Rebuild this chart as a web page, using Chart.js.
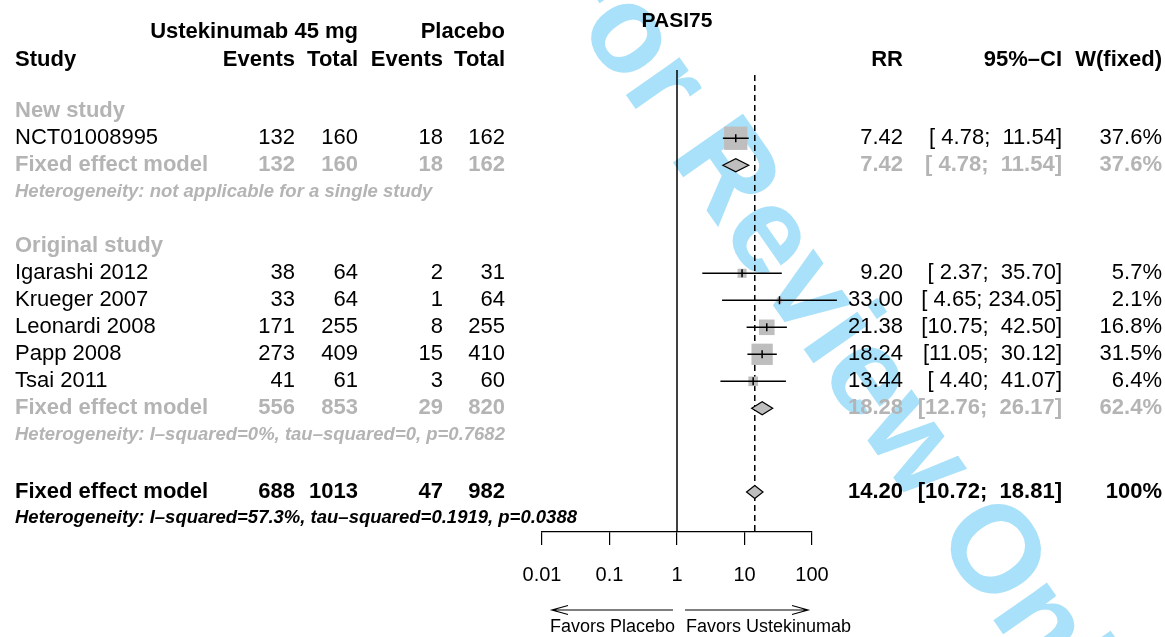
<!DOCTYPE html>
<html>
<head>
<meta charset="utf-8">
<title>PASI75 forest plot</title>
<script src="https://cdn.jsdelivr.net/npm/chart.js@4.4.1/dist/chart.umd.min.js"></script>
<style>
  html, body { margin: 0; padding: 0; background: #fff; }
  #forest { display: block; }
</style>
</head>
<body>
<canvas id="forest" width="1165" height="637"></canvas>
<script>
/* Forest plot — PASI75, ustekinumab 45 mg vs placebo (risk ratio, fixed effect) */

// ---- individual studies ----
const studyNames  = ["NCT01008995", "Igarashi 2012", "Krueger 2007", "Leonardi 2008", "Papp 2008", "Tsai 2011"];
const studyGroup  = [0, 1, 1, 1, 1, 1];
const eventsUst   = [132, 38, 33, 171, 273, 41];
const totalUst    = [160, 64, 64, 255, 409, 61];
const eventsPbo   = [18, 2, 1, 8, 15, 3];
const totalPbo    = [162, 31, 64, 255, 410, 60];
const studyRR     = [7.42, 9.20, 33.00, 21.38, 18.24, 13.44];
const studyLower  = [4.78, 2.37, 4.65, 10.75, 11.05, 4.40];
const studyUpper  = [11.54, 35.70, 234.05, 42.50, 30.12, 41.07];
const studyWeight = [37.6, 5.7, 2.1, 16.8, 31.5, 6.4];

// ---- subgroup pooled results ----
const groupNames  = ["New study", "Original study"];
const groupEvUst  = [132, 556];
const groupTotUst = [160, 853];
const groupEvPbo  = [18, 29];
const groupTotPbo = [162, 820];
const groupRR     = [7.42, 18.28];
const groupLower  = [4.78, 12.76];
const groupUpper  = [11.54, 26.17];
const groupWeight = [37.6, 62.4];
const groupHet    = [
  "Heterogeneity: not applicable for a single study",
  "Heterogeneity: I\u2013squared=0%, tau\u2013squared=0, p=0.7682"
];

// ---- overall pooled result ----
const overallCounts = [688, 1013, 47, 982];
const overallRR     = 14.20;
const overallLower  = 10.72;
const overallUpper  = 18.81;
const overallHet    = "Heterogeneity: I\u2013squared=57.3%, tau\u2013squared=0.1919, p=0.0388";

const xTicks = [0.01, 0.1, 1, 10, 100];

/* ---- row layout (y axis units, one unit per table line) ---- */
const rows = { title: 0.65, head1: 1.05, head2: 2.1, lineTop: 2.47, dashTop: 2.66 };
let r = 4;
const groupRows = groupNames.map((g, gi) => {
  const out = { header: r++, studies: [] };
  studyNames.forEach((s, i) => { if (studyGroup[i] === gi) out.studies.push({ i, row: r++ }); });
  out.fixed = r++;
  out.het = r++;
  r++;
  return out;
});
const overallRow = r + 0.1, overallHetRow = r + 1.05;
const studyRow = [];
groupRows.forEach(g => g.studies.forEach(s => { studyRow[s.i] = s.row; }));

/* ---- styling ---- */
const FONT = '"Liberation Sans", Arial, Helvetica, sans-serif';
const BLACK = "#000";
const GREY = "#b4b4b4";
const BOX = "#bebebe";
const col = { study: 15, evU: 295, totU: 358, evP: 443, totP: 505, rr: 903, ci: 1062, w: 1162 };

const fmt = {
  rr: v => v.toFixed(2),
  ci: (lo, hi) => "[" + lo.toFixed(2).padStart(5) + "; " + hi.toFixed(2).padStart(6) + "]",
  w: v => v >= 100 ? "100%" : v.toFixed(1) + "%",
};

function txt(ctx, s, x, y, align, font, color) {
  ctx.font = font;
  ctx.fillStyle = color;
  ctx.textAlign = align;
  ctx.textBaseline = "middle";
  ctx.fillText(s, x, y);
}

function diamond(ctx, xs, y, lo, est, hi, h) {
  ctx.beginPath();
  ctx.moveTo(xs.getPixelForValue(lo), y);
  ctx.lineTo(xs.getPixelForValue(est), y - h);
  ctx.lineTo(xs.getPixelForValue(hi), y);
  ctx.lineTo(xs.getPixelForValue(est), y + h);
  ctx.closePath();
  ctx.fillStyle = BOX;
  ctx.fill();
  ctx.strokeStyle = BLACK;
  ctx.lineWidth = 1.2;
  ctx.stroke();
}

const forestPlugin = {
  id: "forest",
  beforeDraw(chart) {
    const ctx = chart.ctx;
    ctx.save();
    ctx.fillStyle = "#fff";
    ctx.fillRect(0, 0, chart.width, chart.height);
    // review watermark
    ctx.translate(534, -36);
    ctx.rotate(55 * Math.PI / 180);
    ctx.font = "bold 124px " + FONT;
    ctx.fillStyle = "#a8e1f9";
    ctx.textAlign = "left";
    ctx.textBaseline = "alphabetic";
    ctx.fillText("For Review Only", 0, 0);
    ctx.restore();
  },
  beforeDatasetsDraw(chart) {
    const { ctx, scales: { x, y }, chartArea } = chart;
    ctx.save();
    // line of no effect
    ctx.strokeStyle = BLACK;
    ctx.lineWidth = 1.5;
    ctx.beginPath();
    ctx.moveTo(x.getPixelForValue(1), y.getPixelForValue(rows.lineTop));
    ctx.lineTo(x.getPixelForValue(1), chartArea.bottom);
    ctx.stroke();
    // overall fixed effect estimate
    ctx.setLineDash([6, 4]);
    ctx.beginPath();
    ctx.moveTo(x.getPixelForValue(overallRR), y.getPixelForValue(rows.dashTop));
    ctx.lineTo(x.getPixelForValue(overallRR), chartArea.bottom);
    ctx.stroke();
    ctx.restore();
  },
  afterDatasetsDraw(chart) {
    const { ctx, scales: { x, y } } = chart;
    ctx.save();
    ctx.strokeStyle = BLACK;
    ctx.lineWidth = 1.5;
    studyNames.forEach((s, i) => {
      const py = y.getPixelForValue(studyRow[i]);
      ctx.beginPath();
      ctx.moveTo(x.getPixelForValue(studyLower[i]), py);
      ctx.lineTo(x.getPixelForValue(studyUpper[i]), py);
      const px = x.getPixelForValue(studyRR[i]);
      ctx.moveTo(px, py - 4);
      ctx.lineTo(px, py + 4);
      ctx.stroke();
    });
    groupRows.forEach((g, gi) => {
      diamond(ctx, x, y.getPixelForValue(g.fixed), groupLower[gi], groupRR[gi], groupUpper[gi], 6.5);
    });
    diamond(ctx, x, y.getPixelForValue(overallRow), overallLower, overallRR, overallUpper, 6.5);
    ctx.restore();
  },
  afterDraw(chart) {
    const { ctx, scales: { x, y }, chartArea } = chart;
    const reg = "22px " + FONT, bold = "bold 22px " + FONT, het = "italic bold 18.5px " + FONT;
    const Y = v => y.getPixelForValue(v);
    ctx.save();

    txt(ctx, "PASI75", (chartArea.left + chartArea.right) / 2, Y(rows.title), "center", "bold 21px " + FONT, BLACK);

    // column headers
    txt(ctx, "Ustekinumab 45 mg", col.totU, Y(rows.head1), "right", bold, BLACK);
    txt(ctx, "Placebo", col.totP, Y(rows.head1), "right", bold, BLACK);
    txt(ctx, "Study", col.study, Y(rows.head2), "left", bold, BLACK);
    txt(ctx, "Events", col.evU, Y(rows.head2), "right", bold, BLACK);
    txt(ctx, "Total", col.totU, Y(rows.head2), "right", bold, BLACK);
    txt(ctx, "Events", col.evP, Y(rows.head2), "right", bold, BLACK);
    txt(ctx, "Total", col.totP, Y(rows.head2), "right", bold, BLACK);
    txt(ctx, "RR", col.rr, Y(rows.head2), "right", bold, BLACK);
    txt(ctx, "95%\u2013CI", col.ci, Y(rows.head2), "right", bold, BLACK);
    txt(ctx, "W(fixed)", col.w, Y(rows.head2), "right", bold, BLACK);

    const line = (row, cells, font, color) => {
      const py = Y(row);
      txt(ctx, cells[0], col.study, py, "left", font, color);
      const keys = ["evU", "totU", "evP", "totP", "rr", "ci", "w"];
      keys.forEach((k, j) => txt(ctx, String(cells[j + 1]), col[k], py, "right", font, color));
    };

    groupRows.forEach((g, gi) => {
      txt(ctx, groupNames[gi], col.study, Y(g.header), "left", bold, GREY);
      g.studies.forEach(({ i, row }) => {
        line(row, [studyNames[i], eventsUst[i], totalUst[i], eventsPbo[i], totalPbo[i],
          fmt.rr(studyRR[i]), fmt.ci(studyLower[i], studyUpper[i]), fmt.w(studyWeight[i])], reg, BLACK);
      });
      line(g.fixed, ["Fixed effect model", groupEvUst[gi], groupTotUst[gi], groupEvPbo[gi], groupTotPbo[gi],
        fmt.rr(groupRR[gi]), fmt.ci(groupLower[gi], groupUpper[gi]), fmt.w(groupWeight[gi])], bold, GREY);
      txt(ctx, groupHet[gi], col.study, Y(g.het), "left", het, GREY);
    });

    line(overallRow, ["Fixed effect model", ...overallCounts,
      fmt.rr(overallRR), fmt.ci(overallLower, overallUpper), fmt.w(100)], bold, BLACK);
    txt(ctx, overallHet, col.study, Y(overallHetRow), "left", het, BLACK);

    // direction arrows under the axis
    const x1 = x.getPixelForValue(1);
    const ay = 610;
    ctx.strokeStyle = BLACK;
    ctx.lineWidth = 1.2;
    const arrow = (from, to) => {
      const d = Math.sign(to - from);
      ctx.beginPath();
      ctx.moveTo(from, ay);
      ctx.lineTo(to, ay);
      ctx.moveTo(to - d * 16, ay - 4.5);
      ctx.lineTo(to, ay);
      ctx.lineTo(to - d * 16, ay + 4.5);
      ctx.stroke();
    };
    arrow(x1 - 4, chartArea.left + 10);
    arrow(x1 + 8, chartArea.right - 4);
    txt(ctx, "Favors Placebo", x1 - 2, 627, "right", "18px " + FONT, BLACK);
    txt(ctx, "Favors Ustekinumab", x1 + 9, 627, "left", "18px " + FONT, BLACK);

    ctx.restore();
  }
};

new Chart(document.getElementById("forest"), {
  type: "scatter",
  data: {
    datasets: [{
      data: studyRR.map((v, i) => ({ x: v, y: studyRow[i] })),
      pointStyle: "rect",
      pointRadius: studyWeight.map(w => 3.8 * Math.sqrt(w) / Math.SQRT2),
      backgroundColor: BOX,
      borderWidth: 0,
      clip: false
    }]
  },
  options: {
    responsive: false,
    animation: false,
    devicePixelRatio: 1,
    events: [],
    layout: { autoPadding: false, padding: { left: 542, right: 353, top: 0, bottom: 0 } },
    scales: {
      x: {
        type: "logarithmic",
        position: "bottom",
        min: 0.01,
        max: 100,
        afterBuildTicks: s => { s.ticks = xTicks.map(v => ({ value: v })); },
        afterFit: s => { s.height = 105; },
        grid: { display: true, drawOnChartArea: false, drawTicks: true, tickLength: 13, color: BLACK, lineWidth: 1.2 },
        border: { display: true, color: BLACK, width: 1.2 },
        ticks: {
          autoSkip: false, maxRotation: 0, padding: 18, color: BLACK,
          font: { family: FONT, size: 20 },
          callback: v => String(v)
        }
      },
      y: { type: "linear", reverse: true, min: -0.12, max: 19.58, display: false }
    },
    plugins: { legend: { display: false }, tooltip: { enabled: false } }
  },
  plugins: [forestPlugin]
});
</script>
</body>
</html>
